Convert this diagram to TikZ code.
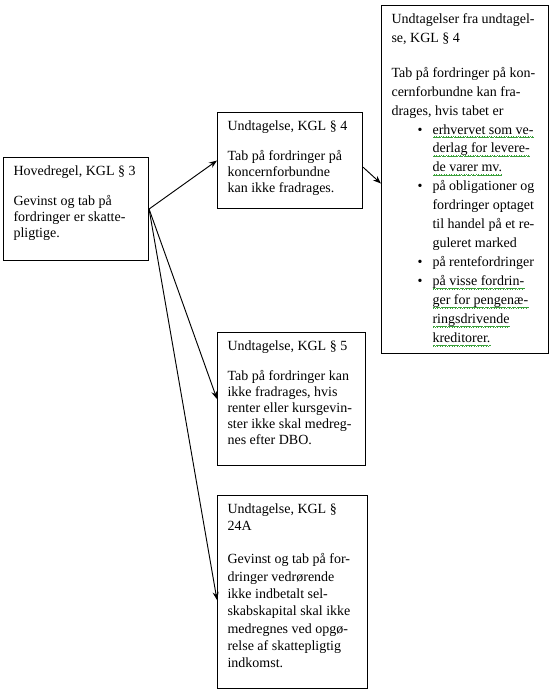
\documentclass[tikz,border=0pt]{standalone}
\usepackage{fontspec}
\setmainfont{Liberation Serif}
\usepackage{xcolor}
\usepackage{tikz}
\usetikzlibrary{arrows.meta}
\definecolor{spellgreen}{RGB}{60,160,60}
% spell-check squiggle under a line
\newsavebox{\wordbox}
\newcommand{\wavepiece}{\hbox{%
  \rule[-2.9pt]{0.45pt}{0.45pt}\rule[-2.5pt]{0.45pt}{0.45pt}%
  \rule[-2.1pt]{0.45pt}{0.45pt}\rule[-2.5pt]{0.45pt}{0.45pt}}}
\newcommand{\squiggle}[1]{\sbox{\wordbox}{#1}%
  \rlap{\textcolor{spellgreen}{\hbox to \wd\wordbox{\xleaders\wavepiece\hfill}}}\usebox{\wordbox}}
% bullet line and its continuation
\newcommand{\itemline}[1]{\hspace*{19.5pt}\makebox[11.25pt][l]{\textbullet}#1}
\newcommand{\contline}[1]{\hspace*{30.75pt}#1}

\begin{document}
\begin{tikzpicture}[
  x=0.75pt, y=-0.75pt,
  box/.style={draw, line width=0.8pt, anchor=north west, inner xsep=7.5pt, inner ysep=6pt,
              font=\fontsize{10.5}{12}\selectfont},
  arrow/.style={-{Stealth[length=6pt,width=4.5pt]}, line width=0.7pt},
]
\useasboundingbox (0,0) rectangle (550,693);
% ---- main rule
\node[box] (hoved) at (3,157) {\parbox[t][65.25pt][t]{93.75pt}{\raggedright
  Hovedregel, KGL § 3\\[11pt]
  Gevinst og tab på\\
  fordringer er skatte-\\
  pligtige.}};
% ---- exceptions
\node[box] (undt4) at (217,112) {\parbox[t][60pt][t]{93.75pt}{\raggedright
  Undtagelse, KGL § 4\\[10.5pt]
  Tab på fordringer på\\
  koncernforbundne\\
  kan ikke fradrages.}};
\node[box] (undt5) at (217,332) {\parbox[t][87.75pt][t]{96pt}{\raggedright
  Undtagelse, KGL § 5\\[10.5pt]
  Tab på fordringer kan\\
  ikke fradrages, hvis\\
  renter eller kursgevin-\\
  ster ikke skal medreg-\\
  nes efter DBO.}};
\node[box] (undt24) at (217,495) {\parbox[t][132.75pt][t]{97.5pt}{\fontsize{10.5}{13}\selectfont\raggedright
  Undtagelse, KGL §\\
  24A\\[12pt]
  Gevinst og tab på for-\\
  dringer vedrørende\\
  ikke indbetalt sel-\\
  skabskapital skal ikke\\
  medregnes ved opgø-\\
  relse af skattepligtig\\
  indkomst.}};
% ---- exceptions to the exception
\node[box] (modundt) at (381,5) {\parbox[t][249pt][t]{110.25pt}{\fontsize{10.5}{14.2}\selectfont\raggedright
  Undtagelser fra undtagel-\\
  se, KGL § 4\\[12pt]
  Tab på fordringer på kon-\\
  cernforbundne kan fra-\\
  drages, hvis tabet er\\
  \itemline{\squiggle{erhvervet som ve-}}\\
  \contline{\squiggle{derlag for levere-}}\\
  \contline{\squiggle{de varer mv.}}\\
  \itemline{på obligationer og}\\
  \contline{fordringer optaget}\\
  \contline{til handel på et re-}\\
  \contline{guleret marked}\\
  \itemline{på rentefordringer}\\
  \itemline{\squiggle{på visse fordrin-}}\\
  \contline{\squiggle{ger for pengenæ-}}\\
  \contline{\squiggle{ringsdrivende}}\\
  \contline{\squiggle{kreditorer.}}}};
% ---- connectors
\draw[arrow] (hoved.east) -- (undt4.west);
\draw[arrow] (hoved.east) -- (undt5.west);
\draw[arrow] (hoved.east) -- ([yshift=-6pt]undt24.west);
\draw[arrow] ([yshift=-5pt]undt4.east) -- ([yshift=-3pt]modundt.west);
\end{tikzpicture}
\end{document}
